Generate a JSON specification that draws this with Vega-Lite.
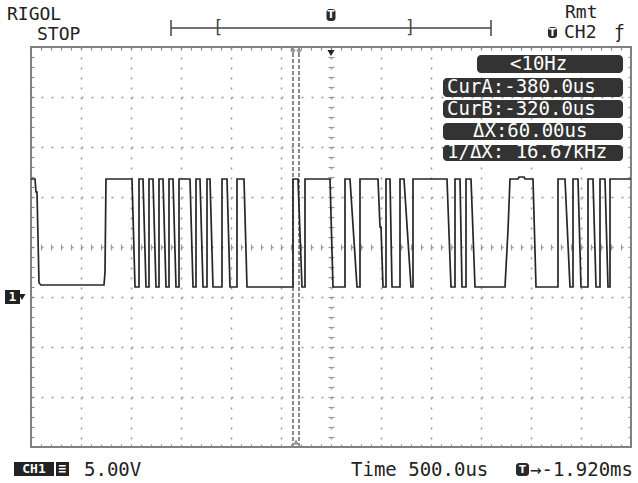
{
"$schema": "https://vega.github.io/schema/vega-lite/v6.json",
"width": 600, "height": 400,
"autosize": {"type": "none"},
"padding": {"left": 31, "top": 47, "right": 7, "bottom": 36},
"background": "white",
"config": {"view": {"stroke": "#808080", "strokeWidth": 2}, "text": {"font": "DejaVu Sans Mono", "color": "#222"}},
"resolve": {"axis": {"x": "independent", "y": "independent"}},
"datasets": {
"wave": [
{"i":1,"t":-3000,"v":11.8},{"i":2,"t":-2960,"v":11.8},{"i":3,"t":-2950,"v":10.5},{"i":4,"t":-2940,"v":10.5},{"i":5,"t":-2920,"v":1.4},{"i":6,"t":-2900,"v":1.2},{"i":7,"t":-2270,"v":1.2},{"i":8,"t":-2260,"v":2.5},{"i":9,"t":-2250,"v":11.8},{"i":10,"t":-1990,"v":11.8},
{"i":11,"t":-1960,"v":1.0},{"i":12,"t":-1920,"v":1.0},{"i":13,"t":-1920,"v":11.8},{"i":14,"t":-1880,"v":11.8},{"i":15,"t":-1850,"v":1.0},{"i":16,"t":-1820,"v":1.0},{"i":17,"t":-1820,"v":11.8},{"i":18,"t":-1780,"v":11.8},{"i":19,"t":-1750,"v":1.0},{"i":20,"t":-1720,"v":1.0},
{"i":21,"t":-1720,"v":11.8},{"i":22,"t":-1680,"v":11.8},{"i":23,"t":-1650,"v":1.0},{"i":24,"t":-1620,"v":1.0},{"i":25,"t":-1620,"v":11.8},{"i":26,"t":-1580,"v":11.8},{"i":27,"t":-1550,"v":1.0},{"i":28,"t":-1520,"v":1.0},{"i":29,"t":-1520,"v":11.8},{"i":30,"t":-1410,"v":11.8},
{"i":31,"t":-1380,"v":1.0},{"i":32,"t":-1350,"v":1.0},{"i":33,"t":-1350,"v":11.8},{"i":34,"t":-1310,"v":11.8},{"i":35,"t":-1280,"v":1.0},{"i":36,"t":-1240,"v":1.0},{"i":37,"t":-1240,"v":11.8},{"i":38,"t":-1210,"v":11.8},{"i":39,"t":-1180,"v":1.0},{"i":40,"t":-1090,"v":1.0},
{"i":41,"t":-1090,"v":11.8},{"i":42,"t":-1040,"v":11.8},{"i":43,"t":-1010,"v":1.0},{"i":44,"t":-940,"v":1.0},{"i":45,"t":-940,"v":11.8},{"i":46,"t":-870,"v":11.8},{"i":47,"t":-840,"v":1.0},{"i":48,"t":-380,"v":1.0},{"i":49,"t":-380,"v":11.8},{"i":50,"t":-330,"v":11.8},
{"i":51,"t":-290,"v":1.0},{"i":52,"t":-260,"v":1.0},{"i":53,"t":-260,"v":11.8},{"i":54,"t":-10,"v":11.8},{"i":55,"t":20,"v":1.0},{"i":56,"t":140,"v":1.0},{"i":57,"t":140,"v":11.8},{"i":58,"t":190,"v":11.8},{"i":59,"t":260,"v":1.0},{"i":60,"t":290,"v":1.0},
{"i":61,"t":290,"v":11.8},{"i":62,"t":470,"v":11.8},{"i":63,"t":490,"v":7.0},{"i":64,"t":500,"v":7.0},{"i":65,"t":520,"v":1.0},{"i":66,"t":550,"v":1.0},{"i":67,"t":550,"v":11.8},{"i":68,"t":590,"v":11.8},{"i":69,"t":610,"v":1.0},{"i":70,"t":690,"v":1.0},
{"i":71,"t":690,"v":11.8},{"i":72,"t":730,"v":11.8},{"i":73,"t":800,"v":1.0},{"i":74,"t":820,"v":1.0},{"i":75,"t":820,"v":11.8},{"i":76,"t":1160,"v":11.8},{"i":77,"t":1200,"v":1.0},{"i":78,"t":1240,"v":1.0},{"i":79,"t":1240,"v":11.8},{"i":80,"t":1290,"v":11.8},
{"i":81,"t":1310,"v":1.0},{"i":82,"t":1350,"v":1.0},{"i":83,"t":1350,"v":11.8},{"i":84,"t":1400,"v":11.8},{"i":85,"t":1440,"v":1.0},{"i":86,"t":1740,"v":1.0},{"i":87,"t":1770,"v":6.7},{"i":88,"t":1790,"v":11.8},{"i":89,"t":1870,"v":11.8},{"i":90,"t":1880,"v":12.0},
{"i":91,"t":1930,"v":12.0},{"i":92,"t":1940,"v":11.8},{"i":93,"t":2020,"v":11.8},{"i":94,"t":2050,"v":1.0},{"i":95,"t":2270,"v":1.0},{"i":96,"t":2270,"v":11.8},{"i":97,"t":2340,"v":11.8},{"i":98,"t":2390,"v":1.0},{"i":99,"t":2420,"v":1.0},{"i":100,"t":2420,"v":11.8},
{"i":101,"t":2470,"v":11.8},{"i":102,"t":2500,"v":1.0},{"i":103,"t":2570,"v":1.0},{"i":104,"t":2570,"v":11.8},{"i":105,"t":2620,"v":11.8},{"i":106,"t":2650,"v":1.0},{"i":107,"t":2690,"v":1.0},{"i":108,"t":2690,"v":11.8},{"i":109,"t":2740,"v":11.8},{"i":110,"t":2770,"v":1.0},
{"i":111,"t":2790,"v":1.0},{"i":112,"t":2790,"v":11.8},{"i":113,"t":3000,"v":11.8}
],
"anchor": [{"t": 0, "v": 5}]
},
"layer": [
{"data": {"name": "anchor"}, "mark": {"type": "point", "opacity": 0},
 "encoding": {"x": {"field": "t", "type": "quantitative", "scale": {"domain": [-3000, 3000], "nice": false, "zero": false},
   "axis": {"orient": "bottom", "values": [-2500,-2000,-1500,-1000,-500,0,500,1000,1500,2000,2500], "grid": true, "gridDash": [2, 8], "gridColor": "#9a9a9a", "gridWidth": 1.5, "ticks": false, "labels": false, "domain": false, "title": null}},
  "y": {"field": "v", "type": "quantitative", "scale": {"domain": [-15, 25], "nice": false, "zero": false},
   "axis": {"orient": "left", "values": [-10,-5,0,5,10,15,20], "grid": true, "gridDash": [2, 8], "gridColor": "#9a9a9a", "gridWidth": 1.5, "ticks": false, "labels": false, "domain": false, "title": null}}}},
{"data": {"name": "anchor"}, "mark": {"type": "point", "opacity": 0},
 "encoding": {"x": {"field": "t", "type": "quantitative", "scale": {"domain": [-3000, 3000], "nice": false, "zero": false},
   "axis": {"orient": "bottom", "offset": -3, "values": [-2900,-2800,-2700,-2600,-2500,-2400,-2300,-2200,-2100,-2000,-1900,-1800,-1700,-1600,-1500,-1400,-1300,-1200,-1100,-1000,-900,-800,-700,-600,-500,-400,-300,-200,-100,0,100,200,300,400,500,600,700,800,900,1000,1100,1200,1300,1400,1500,1600,1700,1800,1900,2000,2100,2200,2300,2400,2500,2600,2700,2800,2900], "tickSize": 3, "tickColor": "#8a8a8a", "tickWidth": 1.2, "grid": false, "labels": false, "domain": false, "title": null}},
  "y": {"field": "v", "type": "quantitative", "scale": {"domain": [-15, 25], "nice": false, "zero": false},
   "axis": {"orient": "left", "offset": -3, "values": [-14,-13,-12,-11,-10,-9,-8,-7,-6,-5,-4,-3,-2,-1,0,1,2,3,4,5,6,7,8,9,10,11,12,13,14,15,16,17,18,19,20,21,22,23,24], "tickSize": 3, "tickColor": "#8a8a8a", "tickWidth": 1.2, "grid": false, "labels": false, "domain": false, "title": null}}}},
{"data": {"name": "anchor"}, "mark": {"type": "point", "opacity": 0},
 "encoding": {"x": {"field": "t", "type": "quantitative", "scale": {"domain": [-3000, 3000], "nice": false, "zero": false},
   "axis": {"orient": "top", "offset": -3, "values": [-2900,-2800,-2700,-2600,-2500,-2400,-2300,-2200,-2100,-2000,-1900,-1800,-1700,-1600,-1500,-1400,-1300,-1200,-1100,-1000,-900,-800,-700,-600,-500,-400,-300,-200,-100,0,100,200,300,400,500,600,700,800,900,1000,1100,1200,1300,1400,1500,1600,1700,1800,1900,2000,2100,2200,2300,2400,2500,2600,2700,2800,2900], "tickSize": 3, "tickColor": "#8a8a8a", "tickWidth": 1.2, "grid": false, "labels": false, "domain": false, "title": null}},
  "y": {"field": "v", "type": "quantitative", "scale": {"domain": [-15, 25], "nice": false, "zero": false},
   "axis": {"orient": "right", "offset": -3, "values": [-14,-13,-12,-11,-10,-9,-8,-7,-6,-5,-4,-3,-2,-1,0,1,2,3,4,5,6,7,8,9,10,11,12,13,14,15,16,17,18,19,20,21,22,23,24], "tickSize": 3, "tickColor": "#8a8a8a", "tickWidth": 1.2, "grid": false, "labels": false, "domain": false, "title": null}}}},
{"data": {"name": "anchor"}, "mark": {"type": "point", "opacity": 0},
 "encoding": {"x": {"field": "t", "type": "quantitative", "scale": {"domain": [-3000, 3000], "nice": false, "zero": false},
   "axis": {"orient": "bottom", "offset": -203, "values": [-2900,-2800,-2700,-2600,-2500,-2400,-2300,-2200,-2100,-2000,-1900,-1800,-1700,-1600,-1500,-1400,-1300,-1200,-1100,-1000,-900,-800,-700,-600,-500,-400,-300,-200,-100,0,100,200,300,400,500,600,700,800,900,1000,1100,1200,1300,1400,1500,1600,1700,1800,1900,2000,2100,2200,2300,2400,2500,2600,2700,2800,2900], "tickSize": 6, "tickColor": "#9a9a9a", "tickWidth": 1.2, "grid": false, "labels": false, "domain": false, "title": null}},
  "y": {"field": "v", "type": "quantitative", "scale": {"domain": [-15, 25], "nice": false, "zero": false},
   "axis": {"orient": "left", "offset": -303, "values": [-14,-13,-12,-11,-10,-9,-8,-7,-6,-5,-4,-3,-2,-1,0,1,2,3,4,5,6,7,8,9,10,11,12,13,14,15,16,17,18,19,20,21,22,23,24], "tickSize": 6, "tickColor": "#9a9a9a", "tickWidth": 1.2, "grid": false, "labels": false, "domain": false, "title": null}}}},
{"data": {"values": [{"t": -380}, {"t": -320}]}, "mark": {"type": "rule", "color": "#8a8a8a", "strokeWidth": 2, "strokeDash": [4, 2]},
 "encoding": {"x": {"field": "t", "type": "quantitative", "scale": {"domain": [-3000, 3000], "nice": false, "zero": false}, "axis": null}}},
{"data": {"name": "wave"}, "mark": {"type": "line", "color": "#262626", "strokeWidth": 1.7, "interpolate": "linear"},
 "encoding": {"x": {"field": "t", "type": "quantitative", "scale": {"domain": [-3000, 3000], "nice": false, "zero": false}, "axis": null},
  "y": {"field": "v", "type": "quantitative", "scale": {"domain": [-15, 25], "nice": false, "zero": false}, "axis": null},
  "order": {"field": "i", "type": "quantitative"}}},
{"data": {"values": [{"t": 1460, "t2": 2920, "v": 24.2, "v2": 22.4}, {"t": 1120, "t2": 2920, "v": 21.9, "v2": 20.0}, {"t": 1120, "t2": 2920, "v": 19.7, "v2": 17.9}, {"t": 1120, "t2": 2920, "v": 17.4, "v2": 15.7}, {"t": 1120, "t2": 2920, "v": 15.2, "v2": 13.6}]},
 "mark": {"type": "rect", "color": "#333333", "cornerRadius": 4},
 "encoding": {"x": {"field": "t", "type": "quantitative", "scale": {"domain": [-3000, 3000], "nice": false, "zero": false}, "axis": null}, "x2": {"field": "t2"},
  "y": {"field": "v", "type": "quantitative", "scale": {"domain": [-15, 25], "nice": false, "zero": false}, "axis": null}, "y2": {"field": "v2"}}},
{"data": {"values": [{"t": 1790, "v": 22.75, "label": "<10Hz"}, {"t": 1160, "v": 20.45, "label": "CurA:-380.0us"}, {"t": 1160, "v": 18.25, "label": "CurB:-320.0us"}, {"t": 1420, "v": 16.0, "label": "ΔX:60.00us"}, {"t": 1160, "v": 13.95, "label": "1/ΔX: 16.67kHz"}]},
 "mark": {"type": "text", "color": "#ffffff", "fontSize": 19, "align": "left", "baseline": "alphabetic"},
 "encoding": {"x": {"field": "t", "type": "quantitative", "scale": {"domain": [-3000, 3000], "nice": false, "zero": false}, "axis": null},
  "y": {"field": "v", "type": "quantitative", "scale": {"domain": [-15, 25], "nice": false, "zero": false}, "axis": null}, "text": {"field": "label"}}},
{"data": {"values": [{"t": -1600, "t2": 1600, "v": 26.9}]}, "mark": {"type": "rule", "color": "#444444", "strokeWidth": 1.5},
 "encoding": {"x": {"field": "t", "type": "quantitative", "scale": {"domain": [-3000, 3000], "nice": false, "zero": false}, "axis": null}, "x2": {"field": "t2"},
  "y": {"field": "v", "type": "quantitative", "scale": {"domain": [-15, 25], "nice": false, "zero": false}, "axis": null}}},
{"data": {"values": [{"t": -1600, "v": 27.7, "v2": 26.1}, {"t": 1600, "v": 27.7, "v2": 26.1}]}, "mark": {"type": "rule", "color": "#444444", "strokeWidth": 1.5},
 "encoding": {"x": {"field": "t", "type": "quantitative", "scale": {"domain": [-3000, 3000], "nice": false, "zero": false}, "axis": null},
  "y": {"field": "v", "type": "quantitative", "scale": {"domain": [-15, 25], "nice": false, "zero": false}, "axis": null}, "y2": {"field": "v2"}}},
{"data": {"values": [{"t": -1130, "v": 26.9, "label": "["}, {"t": 790, "v": 26.9, "label": "]"}]},
 "mark": {"type": "text", "color": "#444444", "fontSize": 17, "align": "center", "baseline": "middle"},
 "encoding": {"x": {"field": "t", "type": "quantitative", "scale": {"domain": [-3000, 3000], "nice": false, "zero": false}, "axis": null},
  "y": {"field": "v", "type": "quantitative", "scale": {"domain": [-15, 25], "nice": false, "zero": false}, "axis": null}, "text": {"field": "label"}}},
{"data": {"values": [{"t": -45, "t2": 45, "v": 28.8, "v2": 27.6}, {"t": 2170, "t2": 2260, "v": 27.0, "v2": 25.9}, {"t": 1850, "t2": 1980, "v": -16.6, "v2": -17.9}]},
 "mark": {"type": "rect", "color": "#2a2a2a", "cornerRadius": 3},
 "encoding": {"x": {"field": "t", "type": "quantitative", "scale": {"domain": [-3000, 3000], "nice": false, "zero": false}, "axis": null}, "x2": {"field": "t2"},
  "y": {"field": "v", "type": "quantitative", "scale": {"domain": [-15, 25], "nice": false, "zero": false}, "axis": null}, "y2": {"field": "v2"}}},
{"data": {"values": [{"t": 0, "v": 28.2, "label": "T"}, {"t": 2215, "v": 26.45, "label": "T"}, {"t": 1915, "v": -17.25, "label": "T"}]},
 "mark": {"type": "text", "color": "#ffffff", "fontSize": 10, "fontWeight": "bold", "align": "center", "baseline": "middle", "font": "DejaVu Sans"},
 "encoding": {"x": {"field": "t", "type": "quantitative", "scale": {"domain": [-3000, 3000], "nice": false, "zero": false}, "axis": null},
  "y": {"field": "v", "type": "quantitative", "scale": {"domain": [-15, 25], "nice": false, "zero": false}, "axis": null}, "text": {"field": "label"}}},
{"data": {"values": [{"t": -3240, "v": 27.7, "label": "RIGOL"}, {"t": -2940, "v": 25.7, "label": "STOP"}, {"t": 2340, "v": 27.95, "label": "Rmt"}, {"t": 2330, "v": 25.9, "label": "CH2"}, {"t": 2830, "v": 25.9, "label": "ƒ"}]},
 "mark": {"type": "text", "color": "#222222", "fontSize": 18, "align": "left", "baseline": "alphabetic"},
 "encoding": {"x": {"field": "t", "type": "quantitative", "scale": {"domain": [-3000, 3000], "nice": false, "zero": false}, "axis": null},
  "y": {"field": "v", "type": "quantitative", "scale": {"domain": [-15, 25], "nice": false, "zero": false}, "axis": null}, "text": {"field": "label"}}},
{"data": {"values": [{"t": 0, "v": 24.4}, {"t": -3090, "v": 0}]},
 "mark": {"type": "point", "shape": "triangle-down", "filled": true, "color": "#222222", "size": 50, "opacity": 1},
 "encoding": {"x": {"field": "t", "type": "quantitative", "scale": {"domain": [-3000, 3000], "nice": false, "zero": false}, "axis": null},
  "y": {"field": "v", "type": "quantitative", "scale": {"domain": [-15, 25], "nice": false, "zero": false}, "axis": null}}},
{"data": {"values": [{"t": -380, "v": 24.5}, {"t": -320, "v": 24.5}]},
 "mark": {"type": "point", "shape": "triangle-down", "filled": true, "color": "#9a9a9a", "size": 35, "opacity": 1},
 "encoding": {"x": {"field": "t", "type": "quantitative", "scale": {"domain": [-3000, 3000], "nice": false, "zero": false}, "axis": null},
  "y": {"field": "v", "type": "quantitative", "scale": {"domain": [-15, 25], "nice": false, "zero": false}, "axis": null}}},
{"data": {"values": [{"t": -350, "v": -14.5}]},
 "mark": {"type": "point", "shape": "triangle-up", "filled": true, "color": "#9a9a9a", "size": 40, "opacity": 1},
 "encoding": {"x": {"field": "t", "type": "quantitative", "scale": {"domain": [-3000, 3000], "nice": false, "zero": false}, "axis": null},
  "y": {"field": "v", "type": "quantitative", "scale": {"domain": [-15, 25], "nice": false, "zero": false}, "axis": null}}},
{"data": {"values": [{"t": -3260, "t2": -3110, "v": 0.7, "v2": -0.7}, {"t": -3170, "t2": -2770, "v": -16.5, "v2": -17.9}, {"t": -2750, "t2": -2620, "v": -16.5, "v2": -17.9}]},
 "mark": {"type": "rect", "color": "#222222"},
 "encoding": {"x": {"field": "t", "type": "quantitative", "scale": {"domain": [-3000, 3000], "nice": false, "zero": false}, "axis": null}, "x2": {"field": "t2"},
  "y": {"field": "v", "type": "quantitative", "scale": {"domain": [-15, 25], "nice": false, "zero": false}, "axis": null}, "y2": {"field": "v2"}}},
{"data": {"values": [{"t": -3185, "v": 0, "label": "1"}, {"t": -2970, "v": -17.2, "label": "CH1"}, {"t": -2685, "v": -17.2, "label": "≡"}]},
 "mark": {"type": "text", "color": "#ffffff", "fontSize": 13, "fontWeight": "bold", "align": "center", "baseline": "middle"},
 "encoding": {"x": {"field": "t", "type": "quantitative", "scale": {"domain": [-3000, 3000], "nice": false, "zero": false}, "axis": null},
  "y": {"field": "v", "type": "quantitative", "scale": {"domain": [-15, 25], "nice": false, "zero": false}, "axis": null}, "text": {"field": "label"}}},
{"data": {"values": [{"t": -2470, "v": -17.9, "label": "5.00V"}, {"t": 200, "v": -17.9, "label": "Time 500.0us"}, {"t": 1990, "v": -17.9, "label": "→-1.920ms"}]},
 "mark": {"type": "text", "color": "#222222", "fontSize": 19, "align": "left", "baseline": "alphabetic"},
 "encoding": {"x": {"field": "t", "type": "quantitative", "scale": {"domain": [-3000, 3000], "nice": false, "zero": false}, "axis": null},
  "y": {"field": "v", "type": "quantitative", "scale": {"domain": [-15, 25], "nice": false, "zero": false}, "axis": null}, "text": {"field": "label"}}}
]
}
